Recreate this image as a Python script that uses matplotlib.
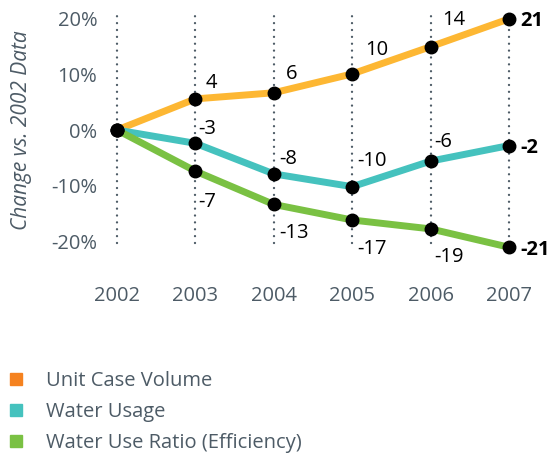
import matplotlib
matplotlib.use("Agg")
import matplotlib.pyplot as plt
from matplotlib.lines import Line2D

years = [2002, 2003, 2004, 2005, 2006, 2007]
unit_case = [0, 5.6, 6.7, 10.1, 15.0, 20.0]
water_usage = [0, -2.4, -7.9, -10.2, -5.6, -2.8]
efficiency = [0, -7.4, -13.4, -16.2, -17.8, -21.1]
unit_case_labels = ["4", "6", "10", "14", "21"]
water_usage_labels = ["-3", "-8", "-10", "-6", "-2"]
efficiency_labels = ["-7", "-13", "-17", "-19", "-21"]
yticks = [20, 10, 0, -10, -20]
series_names = ["Unit Case Volume", "Water Usage", "Water Use Ratio (Efficiency)"]

line_colors = ["#fdb733", "#45c2be", "#7ac143"]
legend_colors = ["#f5821f", "#45c2be", "#7ac143"]
gray = "#4d5b66"

# label offsets in pixels (left edge, vertical center) per series, per year 2003..2007
offsets = [
    [(10, 18), (12, 21), (13, 26), (12, 29), (11, 0)],
    [(3, 17), (5, 17), (5, 28), (4, 22), (11, 0)],
    [(3, -28), (5, -26), (5, -26), (4, -26), (11, 0)],
]

FS = 14.5
plt.rcParams['font.family'] = ['Open Sans', 'DejaVu Sans']
fig = plt.figure(figsize=(5.51, 4.57), dpi=100)
W, H = 551, 457
ax = fig.add_axes([100 / W, 1 - 255 / H, 430 / W, 250 / H])
ax.set_xlim(2001.783, 2007.268)
ax.set_ylim(-22.5, 22.5)
for s in ax.spines.values():
    s.set_visible(False)

for x in years:
    ax.plot([x, x], [-20.3, 21.6], color=gray, lw=1.7, linestyle=(0, (0.01, 2.9)),
            dash_capstyle='round', zorder=1)

all_series = [unit_case, water_usage, efficiency]
all_labels = [unit_case_labels, water_usage_labels, efficiency_labels]
for vals, col in zip(all_series, line_colors):
    ax.plot(years, vals, color=col, lw=5, solid_capstyle='round', zorder=2)
for vals in all_series:
    ax.plot(years, vals, 'o', color='black', ms=9, zorder=3, linestyle='none')

for vals, labs, offs in zip(all_series, all_labels, offsets):
    for i, (lab, off) in enumerate(zip(labs, offs)):
        last = i == len(labs) - 1
        ax.annotate(lab, (years[i + 1], vals[i + 1]), xytext=off,
                    textcoords='offset pixels', ha='left', va='center_baseline',
                    fontsize=FS, color='black',
                    fontweight='bold' if last else 'normal', zorder=4)

ax.set_yticks(yticks)
ax.set_yticklabels([f"{v}%" for v in yticks])
ax.set_xticks(years)
ax.set_xticklabels([str(y) for y in years])
ax.tick_params(axis='both', length=0, labelsize=FS, colors=gray)
ax.tick_params(axis='y', pad=2)
ax.tick_params(axis='x', pad=22)
ax.set_ylabel("Change vs. 2002 Data", fontsize=15, style='italic', color=gray, labelpad=14)

handles = [Line2D([], [], marker='s', color=c, linestyle='none', ms=8) for c in legend_colors]
fig.legend(handles, series_names, loc='upper left', bbox_to_anchor=(4 / W, 1 - 371 / H),
           frameon=False, fontsize=FS, labelcolor=gray, handlelength=1.2,
           handletextpad=0.9, labelspacing=0.55, borderaxespad=0, borderpad=0)

fig.savefig("out.png", dpi=100)
